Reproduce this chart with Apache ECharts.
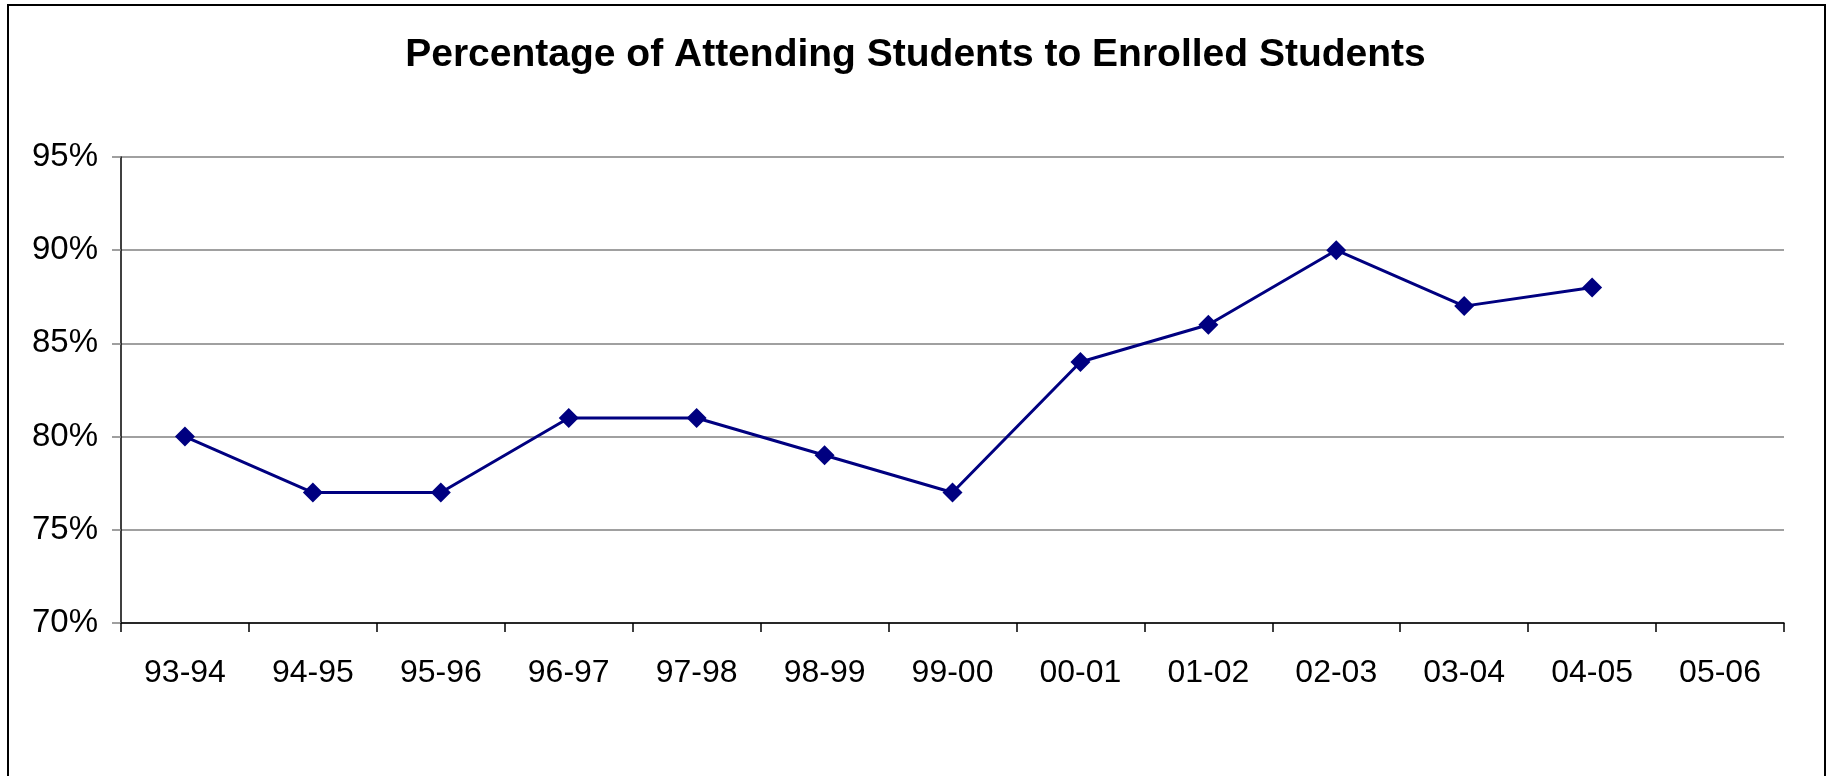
<!DOCTYPE html>
<html>
<head>
<meta charset="utf-8">
<script src="https://cdn.jsdelivr.net/npm/echarts@6/dist/echarts.min.js"></script>
<style>
html,body{margin:0;padding:0;background:#fff;}
#chart{width:1831px;height:776px;}
</style>
</head>
<body>
<div id="chart"></div>
<script>
var categories = ['93-94','94-95','95-96','96-97','97-98','98-99','99-00','00-01','01-02','02-03','03-04','04-05','05-06'];
var attendancePct = [80,77,77,81,81,79,77,84,86,90,87,88,null];
var yTicks = {min:70, max:95, interval:5};

var chart = echarts.init(document.getElementById('chart'), null, {renderer:'canvas'});
chart.setOption({
  animation:false,
  backgroundColor:'#fff',
  graphic:[{
    type:'rect',
    shape:{x:8,y:5,width:1817,height:800},
    style:{fill:'none',stroke:'#000',lineWidth:2},
    silent:true
  }],
  title:{
    text:'Percentage of Attending Students to Enrolled Students',
    left:'center',
    top:31,
    textStyle:{fontFamily:'Liberation Sans, Arial, sans-serif',fontWeight:'bold',fontSize:39,color:'#000'}
  },
  grid:{left:121,right:47,top:157,bottom:153,containLabel:false},
  xAxis:{
    type:'category',
    data:categories,
    boundaryGap:true,
    axisLine:{lineStyle:{color:'#000',width:1.5}},
    axisTick:{show:true,length:9,alignWithLabel:false,lineStyle:{color:'#000',width:1.5}},
    axisLabel:{interval:0,margin:34,fontFamily:'Liberation Sans, Arial, sans-serif',fontSize:32,color:'#000'},
    splitLine:{show:false}
  },
  yAxis:{
    type:'value',
    min:yTicks.min,max:yTicks.max,interval:yTicks.interval,
    axisLine:{show:true,lineStyle:{color:'#000',width:1.5}},
    axisTick:{show:true,length:9,lineStyle:{color:'#808080',width:1.5}},
    axisLabel:{margin:23,formatter:'{value}%',fontFamily:'Liberation Sans, Arial, sans-serif',fontSize:33,color:'#000'},
    splitLine:{show:true,lineStyle:{color:'#808080',width:1.5}}
  },
  series:[{
    type:'line',
    data:attendancePct,
    symbol:'diamond',
    symbolSize:[20,20],
    showAllSymbol:true,
    connectNulls:false,
    lineStyle:{color:'#000080',width:3},
    itemStyle:{color:'#000080'}
  }]
});
</script>
</body>
</html>
